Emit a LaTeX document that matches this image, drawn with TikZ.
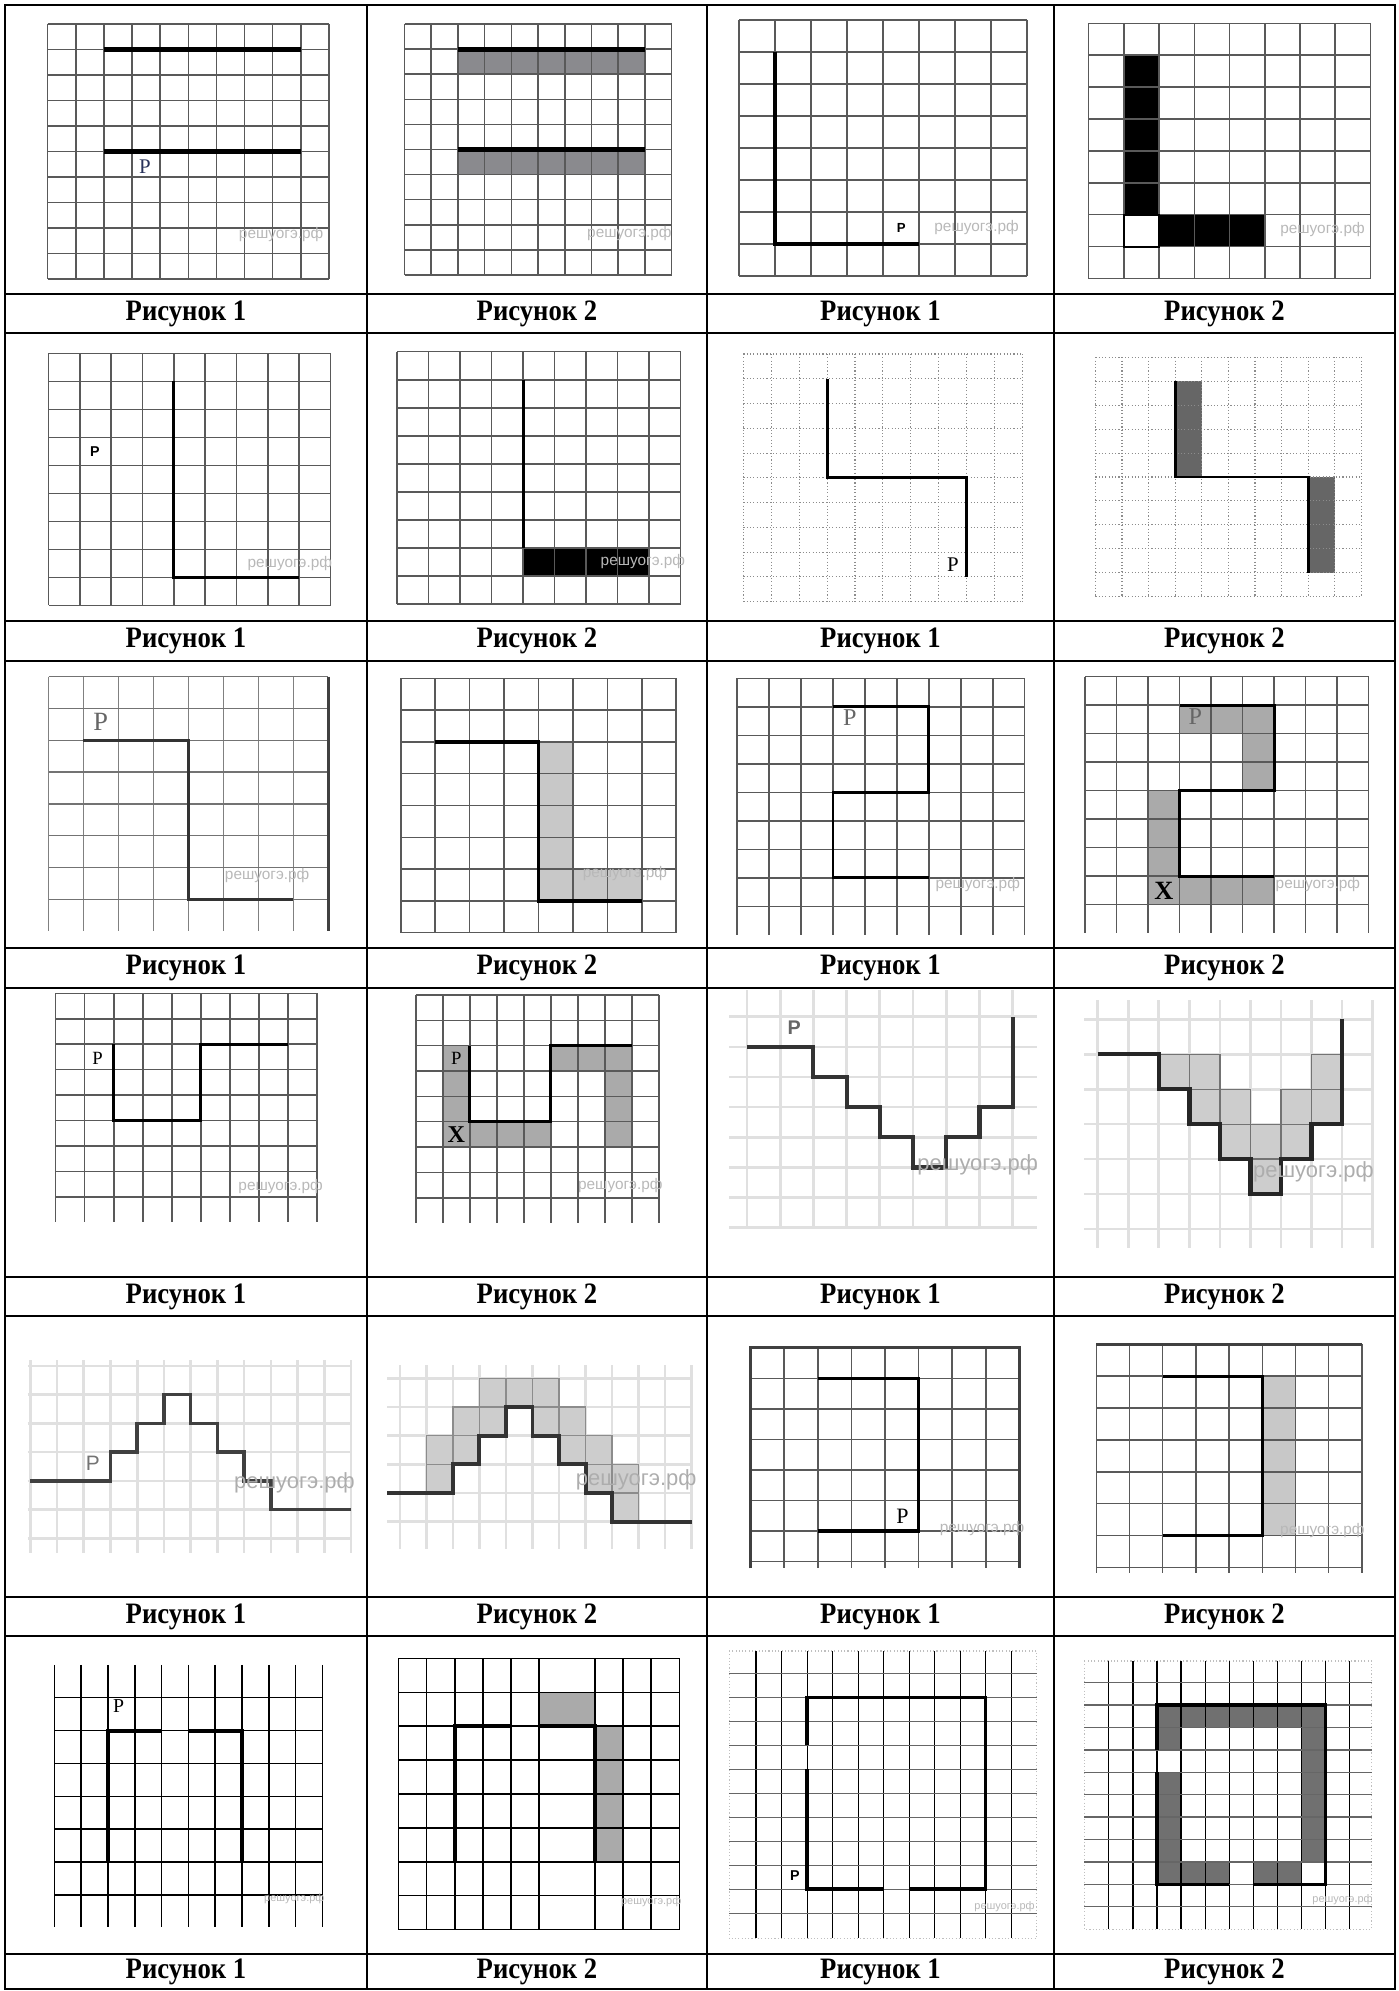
\documentclass[tikz,border=0pt]{standalone}
\usepackage{fontspec}
\setmainfont{Liberation Serif}
\setsansfont{Liberation Sans}
\newfontfamily\capfont{Liberation Serif}[FakeStretch=0.9]
\definecolor{bandgray}{RGB}{138,138,142}
\definecolor{pillargray}{RGB}{102,102,102}
\definecolor{palegray}{RGB}{200,200,200}
\definecolor{stepgray}{RGB}{170,170,170}
\definecolor{cellgray}{RGB}{205,205,205}
\definecolor{framegray}{RGB}{112,112,112}
\definecolor{inkblue}{RGB}{40,50,90}
\tikzset{
	tableline/.style={line width=1.3pt, line cap=rect},%
	gridline/.style={draw=black!65, line width=0.7pt},%
	dotline/.style={draw=black!45, line width=0.5pt, densely dotted},%
	softline/.style={draw=black!12, line width=1.2pt},%
	route/.style={draw=black, line width=1.5pt},%
	caption/.style={font=\capfont\bfseries\fontsize{13.5}{15}\selectfont, inner sep=0},%
	pserif/.style={font=\fontsize{9.5}{10}\selectfont, inner sep=0},%
	psans/.style={font=\sffamily\bfseries\fontsize{6.5}{7}\selectfont, inner sep=0},%
	stamp/.style={text=black!28, font=\sffamily\fontsize{7}{8}\selectfont, inner sep=0},%
	bigstamp/.style={stamp, text=black!32, font=\sffamily\fontsize{10}{11}\selectfont},%
}

\begin{document}
\begin{tikzpicture}[x=0.016cm, y=-0.016cm]
	\useasboundingbox (0,0) rectangle (1399,1991);

	% table
	\foreach \xx in {5,367,707,1054,1395}
		\draw[tableline] (\xx,5) -- (\xx,1989);
	\foreach \yy in {5,294,333,621,661,948,988,1277,1316,1597,1636,1954,1989}
		\draw[tableline] (5,\yy) -- (1395,\yy);
	\foreach \r/\yy in {1/313.5,2/641,3/968,4/1296.5,5/1616.5,6/1972}
		\foreach \c/\xx/\t in {1/186/1,2/537/2,3/880.5/1,4/1224.5/2}
			\node[caption] (cap-\r-\c) at (\xx,\yy) {Рисунок \t};

	% row 1
	\begin{scope}[shift={(47.6,24)}, x={(28.14,0)}, y={(0,25.5)}]
		\foreach \i in {0,...,10} \draw[gridline] (\i,0) -- (\i,10);
		\foreach \j in {0,...,10} \draw[gridline] (0,\j) -- (10,\j);
		\draw[route, line width=2.6pt] (2,1) -- (9,1);
		\draw[route, line width=2.6pt] (2,5) -- (9,5);
		\node[pserif, text=inkblue] (p-a1) at (3.46,5.6) {P};
		\node[stamp] (stamp-a1) at (8.3,8.27) {решуогэ.рф};
	\end{scope}
	\begin{scope}[shift={(404.5,24)}, x={(26.71,0)}, y={(0,25.1)}]
		\fill[bandgray] (2,1) rectangle (9,2);
		\fill[bandgray] (2,5) rectangle (9,6);
		\foreach \i in {0,...,10} \draw[gridline] (\i,0) -- (\i,10);
		\foreach \j in {0,...,10} \draw[gridline] (0,\j) -- (10,\j);
		\draw[route, line width=2.2pt] (2,1) -- (9,1);
		\draw[route, line width=2.2pt] (2,5) -- (9,5);
		\node[stamp] (stamp-a2) at (8.42,8.33) {решуогэ.рф};
	\end{scope}
	\begin{scope}[shift={(739,20)}, x={(36,0)}, y={(0,32)}]
		\foreach \i in {0,...,8} \draw[gridline] (\i,0) -- (\i,8);
		\foreach \j in {0,...,8} \draw[gridline] (0,\j) -- (8,\j);
		\draw[route, line width=1.4pt] (1,1) -- (1,7) -- (5,7);
		\node[psans, font=\sffamily\bfseries\fontsize{6}{7}\selectfont] (p-b1) at (4.51,6.5) {P};
		\node[stamp] (stamp-b1) at (6.6,6.5) {решуогэ.рф};
	\end{scope}
	\begin{scope}[shift={(1088.7,23.3)}, x={(35.21,0)}, y={(0,31.9)}]
		\fill[black] (1,1) rectangle (2,6);
		\fill[black] (2,6) rectangle (5,7);
		\foreach \i in {0,...,8} \draw[gridline] (\i,0) -- (\i,8);
		\foreach \j in {0,...,8} \draw[gridline] (0,\j) -- (8,\j);
		\draw[black, line width=1pt] (1,6) rectangle (2,7);
		\node[stamp] (stamp-b2) at (6.64,6.48) {решуогэ.рф};
	\end{scope}

	% row 2
	\begin{scope}[shift={(48.5,353.3)}, x={(31.34,0)}, y={(0,28)}]
		\foreach \i in {0,...,9} \draw[gridline] (\i,0) -- (\i,9);
		\foreach \j in {0,...,9} \draw[gridline] (0,\j) -- (9,\j);
		\draw[route, line width=1.3pt] (4,1) -- (4,8) -- (8,8);
		\node[psans] (p-c1) at (1.48,3.51) {P};
		\node[stamp] (stamp-c1) at (7.7,7.5) {решуогэ.рф};
	\end{scope}
	\begin{scope}[shift={(397.2,351.7)}, x={(31.5,0)}, y={(0,28.03)}]
		\fill[black] (4,7) rectangle (8,8);
		\foreach \i in {0,...,9} \draw[gridline] (\i,0) -- (\i,9);
		\foreach \j in {0,...,9} \draw[gridline] (0,\j) -- (9,\j);
		\draw[route, line width=1.4pt] (4,1) -- (4,7);
		\node[stamp] (stamp-c2) at (7.8,7.5) {решуогэ.рф};
	\end{scope}
	\begin{scope}[shift={(743.4,354)}, x={(27.9,0)}, y={(0,24.77)}]
		\foreach \i in {0,...,10} \draw[dotline] (\i,0) -- (\i,10);
		\foreach \j in {0,...,10} \draw[dotline] (0,\j) -- (10,\j);
		\draw[route, line width=1.3pt] (3,1) -- (3,5) -- (8,5) -- (8,9);
		\node[pserif] (p-d1) at (7.51,8.52) {P};
	\end{scope}
	\begin{scope}[shift={(1095.4,357.3)}, x={(26.6,0)}, y={(0,23.94)}]
		\fill[pillargray] (3,1) rectangle (4,5);
		\fill[pillargray] (8,5) rectangle (9,9);
		\foreach \i in {0,...,10} \draw[dotline] (\i,0) -- (\i,10);
		\foreach \j in {0,...,10} \draw[dotline] (0,\j) -- (10,\j);
		\draw[route, line width=1.3pt] (3,1) -- (3,5) -- (8,5) -- (8,9);
	\end{scope}

	% row 3
	\begin{scope}[shift={(48.5,676.7)}, x={(34.99,0)}, y={(0,31.8)}]
		\foreach \i in {0,...,8} \draw[gridline, draw=black!50] (\i,0) -- (\i,8);
		\foreach \j in {0,...,7} \draw[gridline, draw=black!55] (0,\j) -- (8,\j);
		\draw[black!75, line width=1.2pt] (8,0) -- (8,8);
		\draw[route, draw=black!80, line width=1.6pt] (1,2) -- (4,2) -- (4,7) -- (7,7);
		\node[pserif, text=black!60, font=\fontsize{12}{13}\selectfont] (p-e1) at (1.49,1.42) {P};
		\node[stamp] (stamp-e1) at (6.25,6.24) {решуогэ.рф};
	\end{scope}
	\begin{scope}[shift={(400.8,678.3)}, x={(34.43,0)}, y={(0,31.8)}]
		\fill[palegray] (4,2) rectangle (5,7);
		\fill[palegray] (5,6) rectangle (7,7);
		\foreach \i in {0,...,8} \draw[gridline] (\i,0) -- (\i,8);
		\foreach \j in {0,...,8} \draw[gridline] (0,\j) -- (8,\j);
		\draw[route, line width=1.6pt] (1,2) -- (4,2) -- (4,7) -- (7,7);
		\node[stamp] (stamp-e2) at (6.51,6.13) {решуогэ.рф};
	\end{scope}
	\begin{scope}[shift={(737.2,678.3)}, x={(31.94,0)}, y={(0,28.5)}]
		\foreach \i in {0,...,9} \draw[gridline] (\i,0) -- (\i,9);
		\foreach \j in {0,...,8} \draw[gridline] (0,\j) -- (9,\j);
		\draw[route, line width=1.3pt] (3,1) -- (6,1) -- (6,4) -- (3,4) -- (3,7) -- (6,7);
		\node[pserif, text=black!60, font=\fontsize{11}{12}\selectfont] (p-f1) at (3.53,1.39) {P};
		\node[stamp] (stamp-f1) at (7.53,7.25) {решуогэ.рф};
	\end{scope}
	\begin{scope}[shift={(1085.1,676.7)}, x={(31.5,0)}, y={(0,28.5)}]
		\fill[stepgray] (3,1) rectangle (6,2);
		\fill[stepgray] (5,2) rectangle (6,4);
		\fill[stepgray] (2,4) rectangle (3,8);
		\fill[stepgray] (3,7) rectangle (6,8);
		\foreach \i in {0,...,9} \draw[gridline] (\i,0) -- (\i,9);
		\foreach \j in {0,...,8} \draw[gridline] (0,\j) -- (9,\j);
		\draw[route, line width=1.3pt] (3,1) -- (6,1) -- (6,4) -- (3,4) -- (3,7) -- (6,7);
		\node[pserif, text=black!60, font=\fontsize{11}{12}\selectfont] (p-f2) at (3.5,1.4) {P};
		\node[pserif, font=\bfseries\fontsize{12}{13}\selectfont] (x-f2) at (2.5,7.5) {X};
		\node[stamp] (stamp-f2) at (7.39,7.3) {решуогэ.рф};
	\end{scope}

	% row 4
	\begin{scope}[shift={(55.7,993.3)}, x={(29.03,0)}, y={(0,25.43)}]
		\foreach \i in {0,...,9} \draw[gridline] (\i,0) -- (\i,9);
		\foreach \j in {0,...,8} \draw[gridline] (0,\j) -- (9,\j);
		\draw[route, line width=1.4pt] (2,2) -- (2,5) -- (5,5) -- (5,2) -- (8,2);
		\node[pserif, font=\fontsize{8.5}{9}\selectfont] (p-g1) at (1.44,2.56) {P};
		\node[stamp] (stamp-g1) at (7.75,7.6) {решуогэ.рф};
	\end{scope}
	\begin{scope}[shift={(415.8,995)}, x={(27.02,0)}, y={(0,25.34)}]
		\fill[stepgray] (1,2) rectangle (2,6);
		\fill[stepgray] (2,5) rectangle (5,6);
		\fill[stepgray] (5,2) rectangle (8,3);
		\fill[stepgray] (7,3) rectangle (8,6);
		\foreach \i in {0,...,9} \draw[gridline] (\i,0) -- (\i,9);
		\foreach \j in {0,...,8} \draw[gridline] (0,\j) -- (9,\j);
		\draw[route, line width=1.4pt] (2,2) -- (2,5) -- (5,5) -- (5,2) -- (8,2);
		\node[pserif, font=\fontsize{8.5}{9}\selectfont] (p-g2) at (1.5,2.5) {P};
		\node[pserif, font=\bfseries\fontsize{11}{12}\selectfont] (x-g2) at (1.5,5.5) {X};
		\node[stamp] (stamp-g2) at (7.57,7.5) {решуогэ.рф};
	\end{scope}
	\begin{scope}[shift={(747,1016.7)}, x={(33.2,0)}, y={(0,30.14)}]
		\foreach \i in {0,...,8} \draw[softline] (\i,-0.89) -- (\i,7);
		\foreach \j in {0,...,7} \draw[softline] (-0.55,\j) -- (8.73,\j);
		\draw[route, draw=black!80, line width=1.9pt] (0,1) -- (2,1) -- (2,2) -- (3,2) -- (3,3) -- (4,3) -- (4,4) -- (5,4) -- (5,5) -- (6,5) -- (6,4) -- (7,4) -- (7,3) -- (8,3) -- (8,0);
		\node[psans, text=black!60, font=\sffamily\bfseries\fontsize{9}{10}\selectfont] (p-h1) at (1.42,0.38) {P};
		\node[bigstamp] (stamp-h1) at (6.95,4.92) {решуогэ.рф};
	\end{scope}
	\begin{scope}[shift={(1097.7,1019.3)}, x={(30.55,0)}, y={(0,34.95)}]
		\foreach \i in {0,...,9} \draw[softline] (\i,-0.55) -- (\i,6.53);
		\foreach \j in {0,...,6} \draw[softline] (-0.45,\j) -- (9,\j);
		\foreach \cx/\cy in {2/1,3/1,7/1,3/2,4/2,6/2,7/2,4/3,5/3,6/3,5/4}
			\filldraw[fill=cellgray, draw=black!55, line width=0.6pt] (\cx,\cy) rectangle ++(1,1);
		\draw[route, draw=black!85, line width=2pt] (0,1) -- (2,1) -- (2,2) -- (3,2) -- (3,3) -- (4,3) -- (4,4) -- (5,4) -- (5,5) -- (6,5) -- (6,4) -- (7,4) -- (7,3) -- (8,3) -- (8,0);
		\node[bigstamp] (stamp-h2) at (7.06,4.36) {решуогэ.рф};
	\end{scope}

	% row 5
	\begin{scope}[shift={(30.3,1366)}, x={(26.73,0)}, y={(0,28.72)}]
		\foreach \i in {0,...,12} \draw[softline] (\i,-0.2) -- (\i,6.5);
		\foreach \j in {0,...,6} \draw[softline] (-0.1,\j) -- (12,\j);
		\draw[route, draw=black!75, line width=1.6pt] (0,4) -- (3,4) -- (3,3) -- (4,3) -- (4,2) -- (5,2) -- (5,1) -- (6,1) -- (6,2) -- (7,2) -- (7,3) -- (8,3) -- (8,4) -- (9,4) -- (9,5) -- (12,5);
		\node[psans, text=black!55, font=\sffamily\fontsize{9.5}{10}\selectfont] (p-i1) at (2.34,3.38) {P};
		\node[bigstamp] (stamp-i1) at (9.88,4.08) {решуогэ.рф};
	\end{scope}
	\begin{scope}[shift={(399.9,1378.3)}, x={(26.52,0)}, y={(0,28.68)}]
		\foreach \i in {0,...,11} \draw[softline] (\i,-0.46) -- (\i,5.96);
		\foreach \j in {0,...,5} \draw[softline] (-0.48,\j) -- (11,\j);
		\foreach \cx/\cy in {3/0,4/0,5/0,2/1,3/1,5/1,6/1,1/2,2/2,6/2,7/2,1/3,7/3,8/3,8/4}
			\filldraw[fill=cellgray, draw=black!45, line width=0.6pt] (\cx,\cy) rectangle ++(1,1);
		\draw[route, draw=black!80, line width=1.8pt] (-0.48,4) -- (2,4) -- (2,3) -- (3,3) -- (3,2) -- (4,2) -- (4,1) -- (5,1) -- (5,2) -- (6,2) -- (6,3) -- (7,3) -- (7,4) -- (8,4) -- (8,5) -- (11,5);
		\node[bigstamp] (stamp-i2) at (8.91,3.55) {решуогэ.рф};
	\end{scope}
	\begin{scope}[shift={(750.6,1347.7)}, x={(33.59,0)}, y={(0,30.57)}]
		\foreach \i in {0,...,8} \draw[gridline] (\i,0) -- (\i,7.22);
		\foreach \j in {0,...,7} \draw[gridline] (0,\j) -- (8,\j);
		\draw[black!75, line width=1.3pt] (0,7.22) -- (0,0) -- (8,0) -- (8,7.22);
		\draw[route, line width=1.5pt] (2,1) -- (5,1) -- (5,6) -- (2,6);
		\node[pserif, font=\fontsize{10}{11}\selectfont] (p-j1) at (4.52,5.5) {P};
		\node[stamp] (stamp-j1) at (6.89,5.91) {решуогэ.рф};
	\end{scope}
	\begin{scope}[shift={(1096.3,1344.3)}, x={(33.2,0)}, y={(0,31.86)}]
		\fill[palegray] (5,1) rectangle (6,6);
		\foreach \i in {0,...,8} \draw[gridline] (\i,0) -- (\i,7.17);
		\foreach \j in {0,...,7} \draw[gridline] (0,\j) -- (8,\j);
		\draw[black!75, line width=1.3pt] (0,0) -- (8,0);
		\draw[route, line width=1.5pt] (2,1) -- (5,1) -- (5,6) -- (2,6);
		\node[stamp] (stamp-j2) at (6.81,5.83) {решуогэ.рф};
	\end{scope}

	% row 6
	\begin{scope}[shift={(54.3,1697.7)}, x={(26.82,0)}, y={(0,32.88)}]
		\foreach \i in {0,...,10} \draw[gridline, draw=black] (\i,-1) -- (\i,6.97);
		\foreach \j in {0,...,6} \draw[gridline, draw=black] (0,\j) -- (10,\j);
		\draw[route, line width=1.9pt] (2,5) -- (2,1) -- (4,1);
		\draw[route, line width=1.9pt] (5,1) -- (7,1) -- (7,5);
		\node[pserif, font=\fontsize{9}{10}\selectfont] (p-k1) at (2.4,0.25) {P};
		\node[stamp, font=\sffamily\fontsize{5}{6}\selectfont] (stamp-k1) at (8.95,6.1) {решуогэ.рф};
	\end{scope}
	\begin{scope}[shift={(398.6,1692.3)}, x={(28.07,0)}, y={(0,33.9)}]
		\fill[stepgray] (5,0) rectangle (7,1);
		\fill[stepgray] (7,1) rectangle (8,5);
		\foreach \i in {0,1,2,3,4,5,7,8,9,10} \draw[gridline, draw=black] (\i,-1) -- (\i,7);
		\foreach \j in {-1,...,7} \draw[gridline, draw=black] (0,\j) -- (10,\j);
		\draw[route, line width=1.9pt] (2,5) -- (2,1) -- (4,1);
		\draw[route, line width=1.9pt] (5,1) -- (7,1) -- (7,5);
		\node[stamp, font=\sffamily\fontsize{5}{6}\selectfont] (stamp-k2) at (9.0,6.18) {решуогэ.рф};
	\end{scope}
	\begin{scope}[shift={(756,1673.3)}, x={(25.52,0)}, y={(0,23.99)}]
		\draw[dotline, draw=black!25] (-1.05,-0.93) rectangle (11,11.05);
		\foreach \i in {0,...,10} \draw[black, line width=0.5pt] (\i,-0.93) -- (\i,11.05);
		\foreach \j in {0,...,10} \draw[black!60, line width=0.6pt] (-1.05,\j) -- (11,\j);
		\draw[route, line width=1.6pt] (2,3) -- (2,1) -- (9,1) -- (9,9) -- (6,9);
		\draw[route, line width=1.6pt] (5,9) -- (2,9) -- (2,4);
		\node[psans] (p-l1) at (1.52,8.43) {P};
		\node[stamp, font=\sffamily\fontsize{5}{6}\selectfont] (stamp-l1) at (9.74,9.73) {решуогэ.рф};
	\end{scope}
	\begin{scope}[shift={(1108.9,1682.7)}, x={(24.04,0)}, y={(0,22.4)}]
		\fill[framegray] (2,1) rectangle (9,2);
		\fill[framegray] (2,2) rectangle (3,3);
		\fill[framegray] (2,4) rectangle (3,9);
		\fill[framegray] (3,8) rectangle (5,9);
		\fill[framegray] (6,8) rectangle (8,9);
		\fill[framegray] (8,2) rectangle (9,8);
		\draw[dotline, draw=black!25] (-1.03,-0.97) rectangle (10.93,11);
		\foreach \i in {0,...,10} \draw[black, line width=0.5pt] (\i,-0.97) -- (\i,11);
		\foreach \j in {0,...,10} \draw[black!60, line width=0.6pt] (-1.03,\j) -- (10.93,\j);
		\draw[route, line width=1.5pt] (2,3) -- (2,1) -- (9,1) -- (9,9) -- (6,9);
		\draw[route, line width=1.5pt] (5,9) -- (2,9) -- (2,4);
		\node[stamp, font=\sffamily\fontsize{5}{6}\selectfont] (stamp-l2) at (9.72,9.7) {решуогэ.рф};
	\end{scope}
\end{tikzpicture}
\end{document}
